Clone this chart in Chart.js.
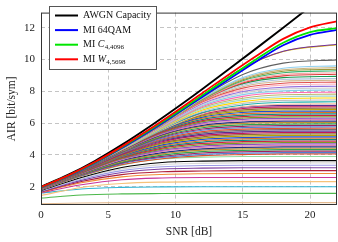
<!DOCTYPE html>
<html>
<head>
<meta charset="utf-8">
<script src="https://cdn.jsdelivr.net/npm/chart.js@4.4.1/dist/chart.umd.min.js"></script>
<style>
  html, body { margin: 0; padding: 0; background: #fff; }
  canvas { display: block; }
</style>
</head>
<body>
<canvas id="airChart" width="338" height="242"></canvas>
<script>
// tick labels
const xTicks = [0, 5, 10, 15, 20];
const yTicks = [2, 4, 6, 8, 10, 12];

// SNR grid for the capacity and the three highlighted constellations
const snrDb = [0, 2, 4, 6, 8, 10, 12, 14, 16, 18, 20, 22];
const awgnCapacity = [2.00, 2.74, 3.62, 4.63, 5.74, 6.92, 8.15, 9.42, 10.70, 12.00, 13.32, 14.64];
const mi64qam = [1.96, 2.66, 3.49, 4.43, 5.46, 6.55, 7.66, 8.78, 9.88, 10.90, 11.55, 11.86];
const miC4096 = [1.97, 2.68, 3.52, 4.48, 5.52, 6.62, 7.76, 8.90, 10.02, 11.05, 11.72, 11.97];
const miW5698 = [1.98, 2.70, 3.55, 4.52, 5.58, 6.72, 7.90, 9.08, 10.22, 11.30, 12.02, 12.40];

// SNR grid for all the other constellations
const snrGrid = [0, 3, 6, 9, 12, 15, 18, 22];

// upper, well separated curves
const upperMi = [
  [1.97, 3.10, 4.44, 5.95, 7.75, 9.45, 10.52, 10.96],
  [1.97, 3.10, 4.44, 5.95, 7.74, 9.44, 10.50, 10.93],
  [1.97, 3.10, 4.44, 5.92, 7.64, 9.06, 9.77, 9.98],
  [1.97, 3.10, 4.44, 5.91, 7.57, 8.86, 9.45, 9.60],
  [1.97, 3.10, 4.43, 5.90, 7.54, 8.79, 9.35, 9.49],
  [1.97, 3.10, 4.43, 5.89, 7.51, 8.73, 9.26, 9.39],
  [1.97, 3.10, 4.43, 5.89, 7.49, 8.67, 9.17, 9.29],
  [1.97, 3.10, 4.43, 5.88, 7.45, 8.59, 9.06, 9.17],
  [1.97, 3.10, 4.43, 5.87, 7.42, 8.53, 8.97, 9.07],
  [1.97, 3.10, 4.42, 5.91, 7.48, 8.47, 8.86, 8.94],
  [1.97, 3.10, 4.42, 5.89, 7.44, 8.38, 8.74, 8.81],
  [1.97, 3.10, 4.42, 5.88, 7.39, 8.29, 8.63, 8.70],
  [1.97, 3.10, 4.41, 5.87, 7.34, 8.20, 8.51, 8.58],
  [1.97, 3.10, 4.41, 5.85, 7.29, 8.09, 8.39, 8.45],
  [1.97, 3.10, 4.40, 5.83, 7.23, 7.99, 8.26, 8.32],
  [1.97, 3.09, 4.40, 5.82, 7.17, 7.89, 8.15, 8.20],
  [1.97, 3.09, 4.39, 5.79, 7.11, 7.79, 8.03, 8.08],
  [1.97, 3.09, 4.39, 5.77, 7.05, 7.68, 7.91, 7.95],
  [1.97, 3.09, 4.38, 5.74, 6.98, 7.56, 7.78, 7.82],
  [1.97, 3.09, 4.37, 5.72, 6.90, 7.46, 7.66, 7.70],
  [1.97, 3.09, 4.36, 5.69, 6.83, 7.35, 7.55, 7.58],
  [1.97, 3.08, 4.35, 5.65, 6.75, 7.24, 7.43, 7.46],
  [1.97, 3.08, 4.34, 5.62, 6.67, 7.14, 7.31, 7.34],
  [1.97, 3.08, 4.33, 5.58, 6.59, 7.03, 7.19, 7.22]
];

// dense band between ~4 and ~7 bit/sym
const denseMi = [
  [1.98, 3.08, 4.38, 5.70, 6.64, 7.00, 7.11, 7.12],
  [1.98, 3.08, 4.37, 5.67, 6.58, 6.92, 7.02, 7.03],
  [1.97, 3.08, 4.36, 5.64, 6.51, 6.83, 6.93, 6.94],
  [1.97, 3.07, 4.35, 5.61, 6.45, 6.75, 6.84, 6.85],
  [1.97, 3.07, 4.34, 5.57, 6.38, 6.67, 6.75, 6.76],
  [1.97, 3.07, 4.33, 5.54, 6.31, 6.58, 6.66, 6.67],
  [1.97, 3.06, 4.31, 5.50, 6.24, 6.49, 6.57, 6.58],
  [1.97, 3.06, 4.30, 5.45, 6.16, 6.41, 6.48, 6.49],
  [1.97, 3.05, 4.28, 5.41, 6.09, 6.32, 6.39, 6.40],
  [1.96, 3.05, 4.27, 5.37, 6.02, 6.24, 6.30, 6.31],
  [1.96, 3.04, 4.25, 5.32, 5.94, 6.15, 6.21, 6.22],
  [1.96, 3.03, 4.23, 5.28, 5.86, 6.06, 6.12, 6.13],
  [1.96, 3.03, 4.21, 5.23, 5.79, 5.98, 6.03, 6.04],
  [1.95, 3.02, 4.19, 5.17, 5.71, 5.89, 5.94, 5.95],
  [1.95, 3.01, 4.17, 5.12, 5.63, 5.80, 5.85, 5.86],
  [1.95, 3.00, 4.14, 5.06, 5.55, 5.71, 5.76, 5.77],
  [1.94, 3.00, 4.12, 5.00, 5.47, 5.62, 5.67, 5.68],
  [1.94, 2.99, 4.09, 4.95, 5.39, 5.54, 5.59, 5.59],
  [1.94, 2.98, 4.07, 4.89, 5.31, 5.45, 5.50, 5.50],
  [1.93, 2.96, 4.03, 4.83, 5.23, 5.36, 5.41, 5.41],
  [1.93, 2.95, 4.00, 4.76, 5.14, 5.27, 5.32, 5.32],
  [1.92, 2.94, 3.97, 4.70, 5.06, 5.18, 5.23, 5.23],
  [1.92, 2.93, 3.94, 4.63, 4.98, 5.09, 5.14, 5.14],
  [1.91, 2.92, 3.90, 4.57, 4.89, 5.01, 5.05, 5.05],
  [1.90, 2.90, 3.87, 4.50, 4.81, 4.92, 4.96, 4.96],
  [1.90, 2.88, 3.83, 4.43, 4.72, 4.83, 4.87, 4.87],
  [1.89, 2.87, 3.78, 4.36, 4.64, 4.74, 4.78, 4.78],
  [1.88, 2.85, 3.74, 4.29, 4.55, 4.65, 4.69, 4.69],
  [1.87, 2.83, 3.70, 4.22, 4.47, 4.56, 4.60, 4.60],
  [1.87, 2.81, 3.65, 4.14, 4.38, 4.47, 4.51, 4.51],
  [1.86, 2.78, 3.60, 4.07, 4.30, 4.38, 4.42, 4.42],
  [1.85, 2.76, 3.55, 3.99, 4.21, 4.29, 4.33, 4.33],
  [1.83, 2.74, 3.50, 3.91, 4.12, 4.20, 4.24, 4.24],
  [1.82, 2.71, 3.45, 3.84, 4.04, 4.11, 4.15, 4.15],
  [1.81, 2.68, 3.39, 3.76, 3.95, 4.02, 4.06, 4.06]
];

// lower, well separated curves
const lowerMi = [
  [1.80, 2.66, 3.36, 3.74, 3.86, 3.90, 3.90, 3.90],
  [1.76, 2.58, 3.21, 3.52, 3.61, 3.64, 3.64, 3.64],
  [1.74, 2.53, 3.11, 3.39, 3.47, 3.50, 3.50, 3.50],
  [1.72, 2.47, 3.01, 3.26, 3.33, 3.35, 3.35, 3.35],
  [1.70, 2.40, 2.89, 3.11, 3.17, 3.19, 3.19, 3.19],
  [1.68, 2.33, 2.76, 2.94, 2.99, 3.01, 3.01, 3.01],
  [1.66, 2.25, 2.62, 2.77, 2.82, 2.83, 2.83, 2.83],
  [1.62, 2.12, 2.44, 2.55, 2.58, 2.58, 2.58, 2.58],
  [1.45, 1.95, 2.20, 2.29, 2.31, 2.32, 2.32, 2.32],
  [1.60, 1.86, 1.96, 1.99, 2.00, 2.00, 2.00, 2.00],
  [1.29, 1.48, 1.55, 1.57, 1.58, 1.58, 1.58, 1.58],
  [0.93, 0.98, 1.00, 1.00, 1.00, 1.00, 1.00, 1.00]
];

const upperColors = ['#7030a0', '#e8c800', '#606060', '#8fd0ef', '#c9b27c', '#9a9a3a', '#3cb371', '#f4a0a0',
  '#e03c3c', '#1a9850', '#b0c4de', '#d2b48c', '#e05050', '#ffb6c1', '#9370db', '#cfcfcf',
  '#87ceeb', '#ff69b4', '#bdb76b', '#a0d8d0', '#ffd700', '#c0c0c0', '#20b2aa', '#f4c2a0'];
const densePalette = ['#5b2c8f', '#c2185b', '#8d6e3a', '#b8a100', '#1f4fd0', '#e07020', '#108a80', '#d02040',
  '#7a9a20', '#9050c0', '#e080b0', '#203080', '#c09030', '#30a050', '#a02060', '#5080d0', '#e05030', '#707070'];
const lowerColors = ['#90dca0', '#000000', '#d8d8d8', '#9c9ce6', '#7d3fa0', '#b0203a', '#f28c38', '#c8359a',
  '#f6c27a', '#2fb5d5', '#4cb84c', '#e2b98e'];

const serif = '"Liberation Serif", "DejaVu Serif", serif';

const pts = (xs, ys) => xs.map((x, i) => ({ x: x, y: ys[i] }));

const datasets = [
  { data: pts(snrDb, miW5698), borderColor: '#ff0000', borderWidth: 1.8 },
  { data: pts(snrDb, miC4096), borderColor: '#00e600', borderWidth: 1.8 },
  { data: pts(snrDb, mi64qam), borderColor: '#0000ff', borderWidth: 1.8 },
  { data: pts(snrDb, awgnCapacity), borderColor: '#000000', borderWidth: 1.9 }
];
upperMi.forEach((row, i) => datasets.push({ data: pts(snrGrid, row), borderColor: upperColors[i], borderWidth: 1.1 }));
denseMi.forEach((row, i) => datasets.push({ data: pts(snrGrid, row), borderColor: densePalette[i % densePalette.length], borderWidth: 1.2 }));
lowerMi.forEach((row, i) => datasets.push({ data: pts(snrGrid, row), borderColor: lowerColors[i], borderWidth: 1.1 }));

// legend with subscripts, drawn by hand
const legendItems = [
  { label: 'AWGN Capacity', color: '#000000' },
  { label: 'MI 64QAM', color: '#0000ff' },
  { label: 'MI ', sym: 'C', sub: '4,4096', color: '#00e600' },
  { label: 'MI ', sym: 'W', sub: '4,5698', color: '#ff0000' }
];

const framePlugin = {
  id: 'frame',
  afterDraw(chart) {
    const { ctx, chartArea: a } = chart;
    ctx.save();
    ctx.strokeStyle = '#333';
    ctx.lineWidth = 1;
    ctx.strokeRect(a.left + 0.5, a.top + 0.5, a.right - a.left - 1, a.bottom - a.top - 1);

    // legend box
    ctx.fillStyle = '#fff';
    ctx.fillRect(49.5, 6.5, 107, 63);
    ctx.strokeStyle = '#555';
    ctx.strokeRect(49.5, 6.5, 107, 63);
    legendItems.forEach((item, i) => {
      const y = 15.5 + i * 14.6;
      ctx.strokeStyle = item.color;
      ctx.lineWidth = 2;
      ctx.beginPath();
      ctx.moveTo(55, y);
      ctx.lineTo(78, y);
      ctx.stroke();
      ctx.fillStyle = '#111';
      ctx.textBaseline = 'middle';
      ctx.font = '10px ' + serif;
      ctx.fillText(item.label, 83, y);
      if (item.sym) {
        let x = 83 + ctx.measureText(item.label).width;
        ctx.font = 'italic 10px ' + serif;
        ctx.fillText(item.sym, x, y);
        x += ctx.measureText(item.sym).width + 0.3;
        ctx.font = '7px ' + serif;
        ctx.fillText(item.sub, x, y + 2.5);
      }
    });
    ctx.restore();
  }
};

new Chart(document.getElementById('airChart'), {
  type: 'line',
  data: { datasets: datasets },
  options: {
    responsive: false,
    animation: false,
    devicePixelRatio: 1,
    layout: { padding: { top: 1, right: 1, left: 0, bottom: 0 } },
    elements: {
      point: { radius: 0 },
      line: { cubicInterpolationMode: 'monotone', fill: false }
    },
    plugins: { legend: { display: false }, tooltip: { enabled: false } },
    scales: {
      x: {
        type: 'linear',
        min: 0,
        max: 22,
        afterBuildTicks: s => { s.ticks = xTicks.map(v => ({ value: v })); },
        afterFit: s => { s.height = 37; },
        grid: { color: '#c4c4c4', lineWidth: 1, drawTicks: false },
        border: { display: false, dash: [4, 3] },
        ticks: { color: '#222', padding: 4, maxRotation: 0, font: { family: serif, size: 11 } },
        title: { display: true, text: 'SNR [dB]', color: '#222', padding: { top: 0, bottom: 3 }, font: { family: serif, size: 11.5 } }
      },
      y: {
        min: 0.85,
        max: 12.95,
        afterBuildTicks: s => { s.ticks = yTicks.map(v => ({ value: v })); },
        afterFit: s => { s.width = 41; },
        grid: { color: '#c4c4c4', lineWidth: 1, drawTicks: false },
        border: { display: false, dash: [4, 3] },
        ticks: { color: '#222', padding: 6, font: { family: serif, size: 11 } },
        title: { display: true, text: 'AIR [bit/sym]', color: '#222', padding: { top: 5, bottom: 0 }, font: { family: serif, size: 11.5 } }
      }
    }
  },
  plugins: [framePlugin]
});
</script>
</body>
</html>
